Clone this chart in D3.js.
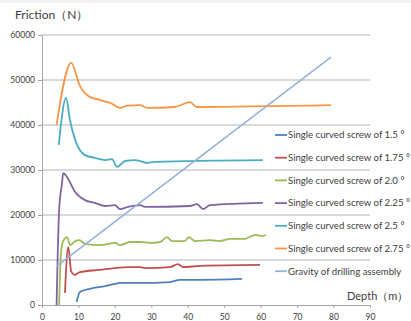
<!DOCTYPE html>
<html><head><meta charset="utf-8">
<script src="https://cdn.jsdelivr.net/npm/d3@7"></script>
<style>body{margin:0;background:#fff}svg{display:block}text{font-family:Lato,"Open Sans",sans-serif}</style>
</head><body><svg id="c" width="411" height="321"></svg>
<script>
const seriesNames = ["Single curved screw of 1.5 °","Single curved screw of 1.75 °","Single curved screw of 2.0 °","Single curved screw of 2.25 °","Single curved screw of 2.5 °","Single curved screw of 2.75 °","Gravity of drilling assembly"];
const colors = ["#4F81BD","#C0504D","#9BBB59","#8064A2","#4BACC6","#F79646","#95B3D7"];
const s15 = [[9.5,700],[10.4,2900],[13.2,3600],[17.3,4200],[20,4700],[21.4,4900],[25.5,4900],[26.9,4900],[35.1,5100],[37.9,5600],[43.4,5600],[54.9,5800]];
const s175 = [[6.3,2700],[7.2,12900],[8.0,7500],[8.9,6700],[10.4,7300],[15.9,7800],[20,8200],[24.1,8400],[26.9,8400],[28.3,8200],[35.1,8400],[37.3,9100],[38.7,8400],[43.4,8700],[59.8,8900]];
const s20 = [[4.7,0],[5.2,11500],[5.8,14200],[6.9,15100],[7.7,13300],[9.1,14200],[10.2,14400],[11.8,13600],[15.9,13300],[20,13800],[21.4,13300],[24.1,14000],[26.9,14000],[29.6,13800],[32.4,14000],[34.3,15100],[35.7,14200],[39.2,14200],[40.3,15100],[42,14200],[46.1,14400],[48.8,14200],[51.6,14700],[55.7,14700],[58.5,15600],[60.4,15300],[61.5,15600]];
const s225 = [[4.0,0],[4.7,21100],[5.5,27100],[5.8,29300],[6.9,28400],[9.1,25100],[11.8,23300],[14.5,22700],[17.3,22000],[20,22200],[21.4,21300],[23.6,21800],[26.9,22200],[28.3,21800],[40.6,22000],[42.5,22400],[44.2,21300],[46.1,22200],[60.6,22700]];
const s25 = [[4.6,35600],[6.6,46000],[7.7,41000],[9.1,36700],[11.8,33300],[14.5,32700],[17.3,32200],[19.2,32400],[20.6,30700],[22.8,32000],[25.5,32200],[27.7,31800],[28.8,31600],[31,31800],[60.6,32200]];
const s275 = [[4.0,40000],[8.0,53800],[10.4,48700],[13.2,46200],[15.9,45600],[17.8,45100],[18.7,44900],[21.4,43800],[23.5,44300],[26.9,44400],[28.8,43800],[36.5,44000],[40.6,45100],[42.5,44000],[79.3,44400]];
const gravity = [[4.1,8700],[79.3,55100]];
const allSeries = [s15,s175,s20,s225,s25,s275,gravity];
const xTicks = [0,10,20,30,40,50,60,70,80,90];
const yTicks = [0,10000,20000,30000,40000,50000,60000];

const svg = d3.select("#c");
svg.append("rect").attr("x",0).attr("y",0).attr("width",411).attr("height",3).attr("fill","#f2f2f2");
const x = d3.scaleLinear().domain([0,90]).range([42,370]);
const y = d3.scaleLinear().domain([0,60000]).range([305,35]);

svg.append("g").selectAll("line").data(yTicks.slice(1)).join("line")
  .attr("x1",42).attr("x2",370).attr("y1",d=>y(d)).attr("y2",d=>y(d))
  .attr("stroke","#b3b3b3").attr("stroke-width",1);

const ya = svg.append("g").attr("transform","translate(42,0)")
  .call(d3.axisLeft(y).tickValues(yTicks).tickSize(4).tickSizeOuter(0).tickFormat(d3.format("d")));
ya.select(".domain").attr("stroke","#a6a6a6");
ya.selectAll(".tick line").attr("stroke","#a6a6a6");
ya.selectAll("text").attr("font-size","8.5px").attr("fill","#404040").attr("font-family","Lato,sans-serif");

const xa = svg.append("g").attr("transform","translate(0,305)")
  .call(d3.axisBottom(x).tickValues(xTicks).tickSize(3).tickSizeOuter(0));
xa.select(".domain").attr("stroke","#a6a6a6");
xa.selectAll(".tick line").attr("stroke","#a6a6a6");
xa.selectAll("text").attr("font-size","8.5px").attr("fill","#404040").attr("dy","1.0em").attr("font-family","Lato,sans-serif");

const line = d3.line().x(d=>x(d[0])).y(d=>y(d[1])).curve(d3.curveMonotoneX);
allSeries.forEach((s,i)=>{
  svg.append("path").datum(s).attr("d",line).attr("fill","none")
    .attr("stroke",colors[i]).attr("stroke-width",i===6?1.6:1.8).attr("stroke-linejoin","round");
});

const lg = svg.append("g");
seriesNames.forEach((n,i)=>{
  const yy = 135 + i*22.7;
  lg.append("line").attr("x1",275).attr("x2",287).attr("y1",yy).attr("y2",yy).attr("stroke",colors[i]).attr("stroke-width",1.8);
  lg.append("text").attr("x",288).attr("y",yy).attr("dy","0.35em").attr("font-size","9.6px").attr("fill","#404040").text(n);
});

svg.append("text").attr("x",15).attr("y",19).attr("font-size","12px").attr("fill","#404040").text("Friction（N）");
svg.append("text").attr("x",347).attr("y",300).attr("font-size","11px").attr("fill","#404040").text("Depth（m）");
</script></body></html>
